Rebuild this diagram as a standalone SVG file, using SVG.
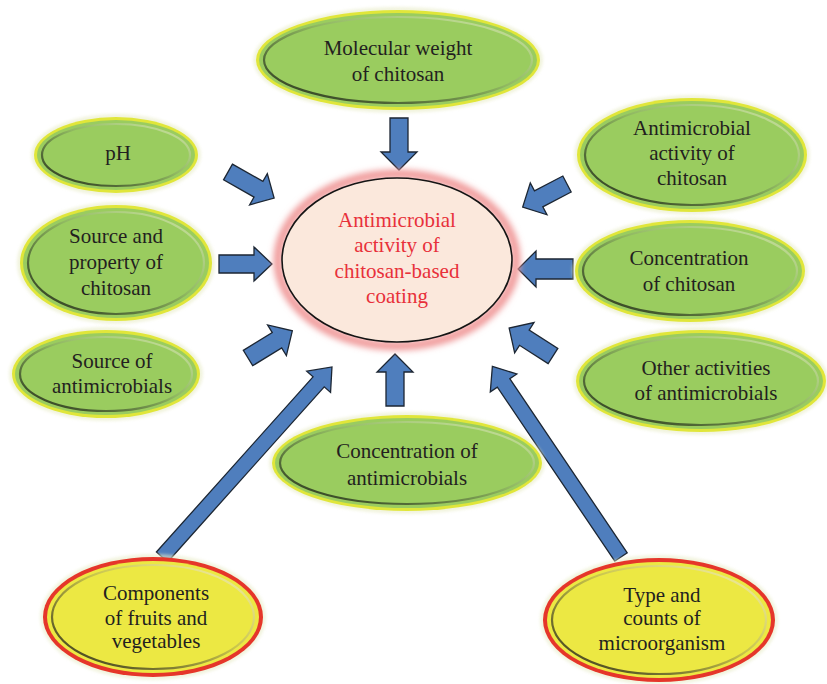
<svg xmlns="http://www.w3.org/2000/svg" width="827" height="684" viewBox="0 0 827 684">
<defs>
<linearGradient id="ringG" x1="1" y1="0" x2="0" y2="1">
<stop offset="0" stop-color="#d2e8a8"/>
<stop offset="0.45" stop-color="#8fb860"/>
<stop offset="1" stop-color="#1f2816"/>
</linearGradient>
<linearGradient id="ringY" x1="1" y1="0" x2="0" y2="1">
<stop offset="0" stop-color="#f8f4b0"/>
<stop offset="0.45" stop-color="#c8c44a"/>
<stop offset="1" stop-color="#2a2a18"/>
</linearGradient>
<filter id="blur" x="-20%" y="-20%" width="140%" height="140%">
<feGaussianBlur stdDeviation="3"/>
</filter>
<filter id="halo" x="-10%" y="-10%" width="120%" height="120%">
<feGaussianBlur stdDeviation="1.5"/>
</filter>
</defs>
<style>
.arrow{fill:#4f7ebd;stroke:#1c2633;stroke-width:1.3;stroke-linejoin:miter}
.gh{fill:#e8ecc8;opacity:0.6;filter:url(#halo)}
.go{fill:#e0e63a}
.gi{fill:#9acc5f}
.gr{fill:none;stroke:url(#ringG);stroke-width:2.2}
.yo{fill:#e5362a}
.yi{fill:#ece843}
.yr{fill:none;stroke:url(#ringY);stroke-width:2.2}
text{font-family:"Liberation Serif","Times New Roman",serif;font-size:21px;fill:#231f20;text-anchor:middle}
.ct{fill:#e8303a}
</style>
<rect width="827" height="684" fill="#ffffff"/>

<g id="connectors">
<path class="arrow" d="M0,-9 H34 V-18 L52,0 L34,18 V9 H0 Z" transform="translate(399,118) rotate(90)"/>
<path class="arrow" d="M0,-9 H35 V-18 L53,0 L35,18 V9 H0 Z" transform="translate(228,172) rotate(29.5)"/>
<path class="arrow" d="M0,-9 H35 V-17 L53,0 L35,17 V9 H0 Z" transform="translate(219,264)"/>
<path class="arrow" d="M0,-9 H34 V-18 L52,0 L34,18 V9 H0 Z" transform="translate(248,358) rotate(-31.5)"/>
<path class="arrow" d="M0,-7.5 H235 V-16 L255,0 L235,16 V7.5 H0 Z" transform="translate(162,557) rotate(-48.2)"/>
<path class="arrow" d="M0,-9 H34 V-18 L52,0 L34,18 V9 H0 Z" transform="translate(395,406) rotate(-90)"/>
<path class="arrow" d="M0,-7.5 H210 V-16 L230,0 L210,16 V7.5 H0 Z" transform="translate(621,557) rotate(-124)"/>
<path class="arrow" d="M0,-9 H34 V-18 L52,0 L34,18 V9 H0 Z" transform="translate(553,356) rotate(-147.5)"/>
<path class="arrow" d="M0,-10 H37 V-18 L55,0 L37,18 V10 H0 Z" transform="translate(573,269) rotate(180)"/>
<path class="arrow" d="M0,-9 H32 V-18 L50,0 L32,18 V9 H0 Z" transform="translate(567,184) rotate(152.4)"/>
</g>

<g id="center">
<ellipse cx="397" cy="260" rx="119" ry="86" fill="none" stroke="#f09a9a" stroke-width="9" filter="url(#blur)"/>
<ellipse cx="397" cy="260" rx="115" ry="82" fill="#fbe8dc" stroke="#141414" stroke-width="1.6"/>
<text class="ct" x="397" y="227">Antimicrobial</text>
<text class="ct" x="397" y="252">activity of</text>
<text class="ct" x="397" y="278">chitosan-based</text>
<text class="ct" x="397" y="303">coating</text>
</g>

<g id="molecular-weight">
<ellipse class="gh" cx="398" cy="60" rx="145" ry="53"/>
<ellipse class="go" cx="398" cy="60" rx="142" ry="50"/>
<ellipse class="gi" cx="398" cy="60" rx="139" ry="47"/>
<ellipse class="gr" cx="398" cy="60" rx="134" ry="43"/>
<text x="398" y="55">Molecular weight</text>
<text x="398" y="81">of chitosan</text>
</g>

<g id="ph">
<ellipse class="gh" cx="116" cy="155" rx="85" ry="41"/>
<ellipse class="go" cx="116" cy="155" rx="82" ry="38"/>
<ellipse class="gi" cx="116" cy="155" rx="79" ry="35"/>
<ellipse class="gr" cx="116" cy="155" rx="74" ry="31"/>
<text x="118" y="160">pH</text>
</g>

<g id="source-property">
<ellipse class="gh" cx="116" cy="263" rx="99" ry="61"/>
<ellipse class="go" cx="116" cy="263" rx="96" ry="58"/>
<ellipse class="gi" cx="116" cy="263" rx="93" ry="55"/>
<ellipse class="gr" cx="116" cy="263" rx="88" ry="51"/>
<text x="116" y="243">Source and</text>
<text x="116" y="269">property of</text>
<text x="116" y="295">chitosan</text>
</g>

<g id="source-antimicrobials">
<ellipse class="gh" cx="106" cy="374" rx="97" ry="47"/>
<ellipse class="go" cx="106" cy="374" rx="94" ry="44"/>
<ellipse class="gi" cx="106" cy="374" rx="91" ry="41"/>
<ellipse class="gr" cx="106" cy="374" rx="86" ry="37"/>
<text x="112" y="368">Source of</text>
<text x="112" y="393">antimicrobials</text>
</g>

<g id="antimicrobial-chitosan">
<ellipse class="gh" cx="692" cy="155" rx="118" ry="60"/>
<ellipse class="go" cx="692" cy="155" rx="115" ry="57"/>
<ellipse class="gi" cx="692" cy="155" rx="112" ry="54"/>
<ellipse class="gr" cx="692" cy="155" rx="107" ry="50"/>
<text x="692" y="135">Antimicrobial</text>
<text x="692" y="160">activity of</text>
<text x="692" y="185">chitosan</text>
</g>

<g id="concentration-chitosan">
<ellipse class="gh" cx="690" cy="271" rx="118" ry="54"/>
<ellipse class="go" cx="690" cy="271" rx="115" ry="51"/>
<ellipse class="gi" cx="690" cy="271" rx="112" ry="48"/>
<ellipse class="gr" cx="690" cy="271" rx="107" ry="44"/>
<text x="689" y="265">Concentration</text>
<text x="689" y="291">of chitosan</text>
</g>

<g id="other-activities">
<ellipse class="gh" cx="701" cy="381" rx="128" ry="54"/>
<ellipse class="go" cx="701" cy="381" rx="125" ry="51"/>
<ellipse class="gi" cx="701" cy="381" rx="122" ry="48"/>
<ellipse class="gr" cx="701" cy="381" rx="117" ry="44"/>
<text x="706" y="375">Other activities</text>
<text x="706" y="400">of antimicrobials</text>
</g>

<g id="concentration-antimicrobials">
<ellipse class="gh" cx="407" cy="463" rx="138" ry="51"/>
<ellipse class="go" cx="407" cy="463" rx="135" ry="48"/>
<ellipse class="gi" cx="407" cy="463" rx="132" ry="45"/>
<ellipse class="gr" cx="407" cy="463" rx="127" ry="41"/>
<text x="407" y="458">Concentration of</text>
<text x="407" y="485">antimicrobials</text>
</g>

<g id="fruits-vegetables">
<ellipse class="gh" cx="153" cy="617" rx="113" ry="63"/>
<ellipse class="yo" cx="153" cy="617" rx="110" ry="60"/>
<ellipse class="yi" cx="153" cy="617" rx="106" ry="56"/>
<ellipse class="yr" cx="153" cy="617" rx="101" ry="52"/>
<text x="156" y="600">Components</text>
<text x="156" y="625">of fruits and</text>
<text x="156" y="648">vegetables</text>
</g>

<g id="microorganism">
<ellipse class="gh" cx="659" cy="620" rx="119" ry="65"/>
<ellipse class="yo" cx="659" cy="620" rx="116" ry="62"/>
<ellipse class="yi" cx="659" cy="620" rx="112" ry="58"/>
<ellipse class="yr" cx="659" cy="620" rx="107" ry="54"/>
<text x="662" y="602">Type and</text>
<text x="662" y="625">counts of</text>
<text x="662" y="650">microorganism</text>
</g>
</svg>
